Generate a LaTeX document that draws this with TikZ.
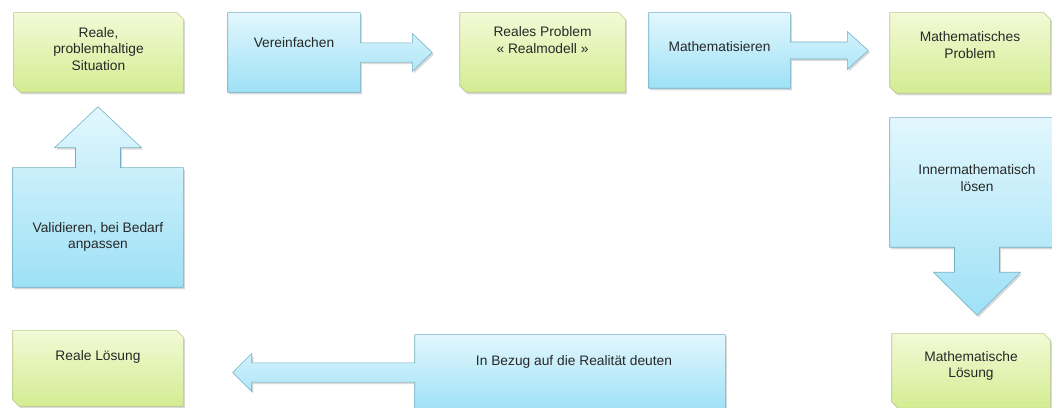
\documentclass[tikz,border=0pt]{standalone}
\usepackage{fontspec}
\setmainfont{Liberation Sans}
\usepackage{xcolor}
\usetikzlibrary{positioning, calc, shadows}
\definecolor{greentop}{RGB}{242,250,214}
\definecolor{greenbot}{RGB}{212,236,146}
\definecolor{greenline}{RGB}{184,198,142}
\definecolor{bluetop}{RGB}{226,247,253}
\definecolor{bluebot}{RGB}{158,225,246}
\definecolor{blueline}{RGB}{112,176,196}
\definecolor{txtgray}{RGB}{40,40,40}
\tikzset{
  softshadow/.style={drop shadow={shadow xshift=0.04cm, shadow yshift=-0.05cm,
                     opacity=0.3}},
  frame/.style={rectangle, inner sep=0pt},
  greenshape/.style={draw=greenline, top color=greentop, bottom color=greenbot,
                     line join=miter, softshadow},
  bluearrow/.style={draw=blueline, top color=bluetop, bottom color=bluebot,
                    line join=miter, softshadow},
  txt/.style={align=center, font=\fontsize{9.8}{11.6}\selectfont, text=txtgray}
}

\begin{document}
\begin{tikzpicture}
  \useasboundingbox (0,0) rectangle (26.3,10.2);

  % Green states
  \node[frame, minimum width=4.225cm, minimum height=1.975cm]
    (situation) at (2.4625,8.8875) {};
  \node[frame, minimum width=4.125cm, minimum height=1.975cm]
    (realmodell) at (13.5625,8.8875) {};
  \node[frame, minimum width=4cm, minimum height=2cm]
    (matheproblem) at (24.25,8.875) {};
  \node[frame, minimum width=3.95cm, minimum height=1.85cm]
    (matheloesung) at (24.275,0.925) {};
  \node[frame, minimum width=4.25cm, minimum height=1.875cm]
    (realloesung) at (2.45,0.9875) {};

  \foreach \n in {situation,realmodell,matheproblem,matheloesung,realloesung}
    \draw[greenshape] (\n.north west) -- ([xshift=-0.16cm]\n.north east)
        -- ([yshift=-0.16cm]\n.north east) -- (\n.south east)
        -- ([xshift=0.16cm]\n.south west) -- ([yshift=0.16cm]\n.south west)
        -- cycle;

  % Blue steps (box + arrow)
  \node[frame, minimum width=3.3cm, minimum height=1.975cm]
    (vereinf) at (7.35,8.8875) {};
  \node[frame, minimum width=3.525cm, minimum height=1.875cm]
    (mathematis) at (17.9875,8.9375) {};
  \node[frame, minimum width=4.35cm, minimum height=3.225cm]
    (innermath) at (24.425,5.6375) {};
  \node[frame, minimum width=7.75cm, minimum height=1.875cm]
    (deuten) at (14.25,0.8875) {};
  \node[frame, minimum width=4.25cm, minimum height=2.975cm]
    (validieren) at (2.45,4.5125) {};

  \draw[bluearrow] (vereinf.north west) -- (vereinf.north east)
      -- ([yshift=0.24cm]vereinf.east) -- ++(1.3,0) -- ++(0,0.235)
      -- ([xshift=1.8cm]vereinf.east)
      -- ([xshift=1.3cm,yshift=-0.475cm]vereinf.east) -- ++(0,0.235)
      -- ([yshift=-0.24cm]vereinf.east)
      -- (vereinf.south east) -- (vereinf.south west) -- cycle;
  \draw[bluearrow] (mathematis.north west) -- (mathematis.north east)
      -- ([yshift=0.2125cm]mathematis.east) -- ++(1.425,0) -- ++(0,0.2625)
      -- ([xshift=1.95cm]mathematis.east)
      -- ([xshift=1.425cm,yshift=-0.475cm]mathematis.east) -- ++(0,0.2625)
      -- ([yshift=-0.2125cm]mathematis.east)
      -- (mathematis.south east) -- (mathematis.south west) -- cycle;
  \draw[bluearrow] (innermath.north west) -- (innermath.north east)
      -- (innermath.south east)
      -- ([xshift=0.5625cm]innermath.south) -- ++(0,-0.625) -- ++(0.525,0)
      -- ([yshift=-1.7cm]innermath.south)
      -- ([xshift=-1.0875cm,yshift=-0.625cm]innermath.south) -- ++(0.525,0)
      -- ([xshift=-0.5625cm]innermath.south)
      -- (innermath.south west) -- cycle;
  \draw[bluearrow] (deuten.north east) -- (deuten.north west)
      -- ([yshift=0.24cm]deuten.west) -- ++(-4.075,0) -- ++(0,0.235)
      -- ([xshift=-4.55cm]deuten.west)
      -- ([xshift=-4.075cm,yshift=-0.475cm]deuten.west) -- ++(0,0.235)
      -- ([yshift=-0.24cm]deuten.west)
      -- (deuten.south west) -- (deuten.south east) -- cycle;
  \draw[bluearrow] (validieren.south west) -- (validieren.south east)
      -- (validieren.north east)
      -- ([xshift=0.5625cm]validieren.north) -- ++(0,0.5) -- ++(0.525,0)
      -- ([yshift=1.525cm]validieren.north)
      -- ([xshift=-1.0875cm,yshift=0.5cm]validieren.north) -- ++(0.525,0)
      -- ([xshift=-0.5625cm]validieren.north)
      -- (validieren.north west) -- cycle;

  % Texts
  \node[txt] (situation-t) at ([yshift=0.09cm]situation.center)
    {Reale,\\problemhaltige\\Situation};
  \node[txt] (realmodell-t) at ([yshift=0.31cm]realmodell.center)
    {Reales Problem\\« Realmodell »};
  \node[txt] (matheproblem-t) at ([yshift=0.2cm]matheproblem.center)
    {Mathematisches\\Problem};
  \node[txt] (matheloesung-t) at ([yshift=0.125cm]matheloesung.center)
    {Mathematische\\Lösung};
  \node[txt] (realloesung-t) at ([yshift=0.29cm]realloesung.center)
    {Reale Lösung};
  \node[txt] (vereinf-t) at ([yshift=0.26cm]vereinf.center) {Vereinfachen};
  \node[txt] (mathematis-t) at ([yshift=0.09cm]mathematis.center) {Mathematisieren};
  \node[txt] (innermath-t) at ([yshift=0.11cm]innermath.center)
    {Innermathematisch\\lösen};
  \node[txt] (deuten-t) at ([xshift=0.1cm,yshift=0.26cm]deuten.center)
    {In Bezug auf die Realität deuten};
  \node[txt] (validieren-t) at ([yshift=-0.24cm]validieren.center)
    {Validieren, bei Bedarf\\anpassen};
\end{tikzpicture}
\end{document}
